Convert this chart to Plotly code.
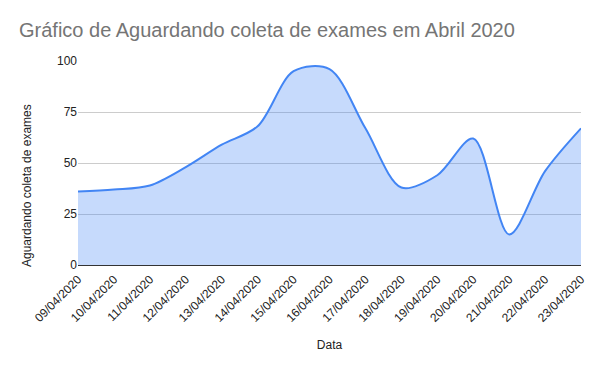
import plotly.graph_objects as go

dates = ["09/04/2020", "10/04/2020", "11/04/2020", "12/04/2020", "13/04/2020",
         "14/04/2020", "15/04/2020", "16/04/2020", "17/04/2020", "18/04/2020",
         "19/04/2020", "20/04/2020", "21/04/2020", "22/04/2020", "23/04/2020"]
aguardando = [36, 37, 39, 48, 59, 68, 95, 96, 67, 38, 44, 62, 15, 46, 67]
y_ticks = [0, 25, 50, 75, 100]

fig = go.Figure()
fig.add_trace(go.Scatter(
    x=dates, y=aguardando, mode="lines",
    line=dict(color="#4285F4", width=2, shape="spline", smoothing=0.9),
    fill="tozeroy", fillcolor="rgba(66,133,244,0.3)",
    hoverinfo="x+y", showlegend=False,
))

font = "Liberation Sans, Arial, sans-serif"
L, R, T, B = 78, 19, 61, 106
plot_w, plot_h = 600 - L - R, 371 - T - B

fig.update_layout(
    width=600, height=371,
    margin=dict(l=L, r=R, t=T, b=B, autoexpand=False),
    paper_bgcolor="white", plot_bgcolor="white",
    font=dict(family=font, size=12, color="#222222"),
    title=dict(text="Gráfico de Aguardando coleta de exames em Abril 2020",
               x=19/600, xref="container", xanchor="left",
               y=1-30/371, yref="container", yanchor="middle",
               font=dict(family=font, size=20, color="#757575")),
    xaxis=dict(
        type="category", range=[0, 14], tickangle=-45, automargin=False,
        showgrid=False, showline=False, zeroline=False, ticklabelstandoff=4,
        ticks="", tickfont=dict(size=12, color="#222222"),
        title=dict(text="Data", font=dict(size=12, color="#222222"), standoff=16),
    ),
    yaxis=dict(
        range=[0, 100], tickvals=y_ticks, showgrid=True, gridcolor="#cccccc",
        zeroline=True, zerolinecolor="#333333", zerolinewidth=1, automargin=False,
        showline=False, ticks="", tickfont=dict(size=12, color="#222222"),
    ),
    annotations=[dict(
        text="Aguardando coleta de exames", textangle=-90,
        xref="paper", yref="paper",
        x=(27 - L) / plot_w, y=(371 - B - 186) / plot_h,
        xanchor="center", yanchor="middle", showarrow=False,
        font=dict(family=font, size=12, color="#222222"),
    )],
)
fig.write_html("out.html", config={"displayModeBar": False},
               post_script="document.body.style.margin='0';document.body.style.overflow='hidden';")
